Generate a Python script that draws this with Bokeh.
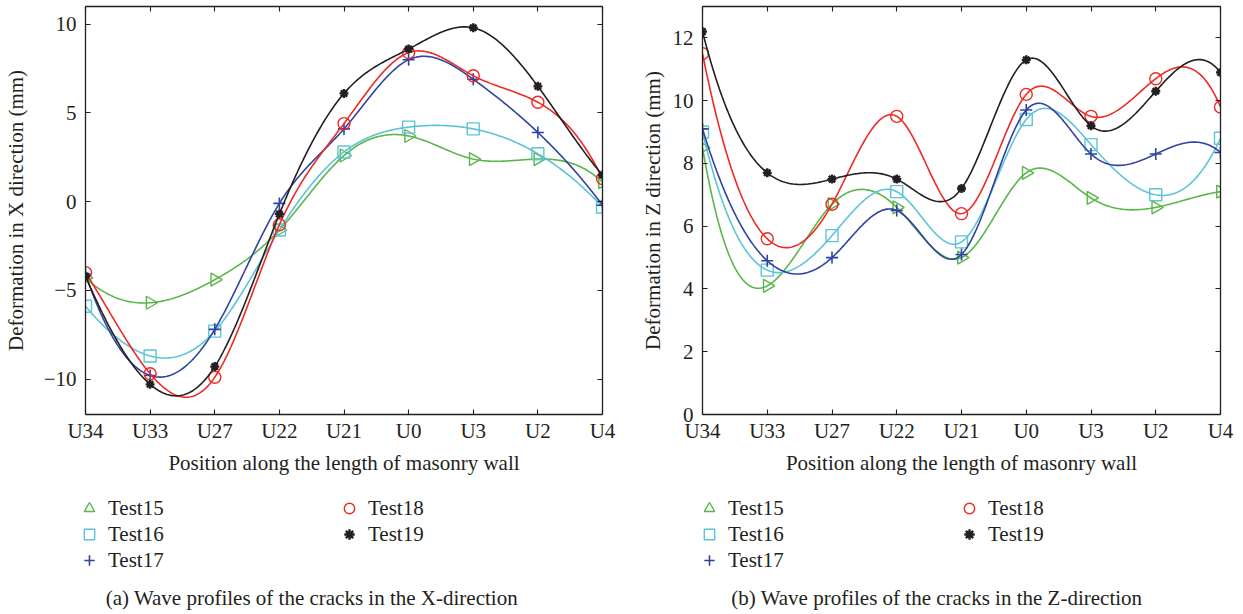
import numpy as np
from bokeh.plotting import figure
from bokeh.layouts import row, column
from bokeh.models import (FixedTicker, LinearAxis, Legend, LegendItem, Label,
                          CustomJSTickFormatter, Range1d)
from bokeh.embed import file_html
from bokeh.resources import INLINE

# ---------------- data ----------------
positions = ["U34", "U33", "U27", "U22", "U21", "U0", "U3", "U2", "U4"]
series_names = ["Test15", "Test16", "Test17", "Test18", "Test19"]

# (a) X-direction deformation (mm)
x_test15 = [-4.3, -5.7, -4.4, -1.6, 2.6, 3.7, 2.4, 2.4, 1.1]
x_test16 = [-5.9, -8.7, -7.3, -1.6, 2.8, 4.2, 4.1, 2.7, -0.3]
x_test17 = [-4.1, -9.8, -7.2, -0.1, 4.1, 8.0, 6.9, 3.9, -0.2]
x_test18 = [-4.0, -9.7, -9.9, -1.3, 4.4, 8.4, 7.1, 5.6, 1.3]
x_test19 = [-4.2, -10.3, -9.3, -0.7, 6.1, 8.6, 9.8, 6.5, 1.5]

# (b) Z-direction deformation (mm)
z_test15 = [8.5, 4.1, 6.7, 6.6, 5.0, 7.7, 6.9, 6.6, 7.1]
z_test16 = [9.0, 4.6, 5.7, 7.1, 5.5, 9.4, 8.6, 7.0, 8.8]
z_test17 = [9.1, 4.9, 5.0, 6.5, 5.1, 9.7, 8.3, 8.3, 8.35]
z_test18 = [11.5, 5.6, 6.7, 9.5, 6.4, 10.2, 9.5, 10.7, 9.8]
z_test19 = [12.2, 7.7, 7.5, 7.5, 7.2, 11.3, 9.2, 10.3, 10.9]

x_yticks = [-10, -5, 0, 5, 10]
z_yticks = [0, 2, 4, 6, 8, 10, 12]

# ---------------- styles ----------------
FONT = "Liberation Serif"
TXT = "#231f20"
FS = "21px"
colors = ["#5ab54a", "#5cc4d6", "#2f43a0", "#ee2a24", "#231f20"]
markers = ["triangle", "square", "cross", "circle", "asterisk"]


def marker_kw(mk, col):
    kw = dict(marker=mk, size=12, line_color=col, line_width=1.4, fill_color=None)
    if mk == "triangle":
        kw.update(angle=-np.pi / 2, size=13)
    if mk == "cross":
        kw.update(size=12, line_width=1.6)
    if mk == "asterisk":
        kw.update(size=9, line_width=2.4)
    return kw


def spline_nak(x, y, xs):
    """Not-a-knot cubic spline through (x, y), evaluated at xs."""
    x = np.asarray(x, float)
    y = np.asarray(y, float)
    n = len(x)
    h = np.diff(x)
    A = np.zeros((n, n))
    r = np.zeros(n)
    for i in range(1, n - 1):
        A[i, i - 1] = h[i - 1]
        A[i, i] = 2 * (h[i - 1] + h[i])
        A[i, i + 1] = h[i]
        r[i] = 6 * ((y[i + 1] - y[i]) / h[i] - (y[i] - y[i - 1]) / h[i - 1])
    A[0, 0], A[0, 1], A[0, 2] = -h[1], h[0] + h[1], -h[0]
    A[-1, -3], A[-1, -2], A[-1, -1] = -h[-1], h[-2] + h[-1], -h[-2]
    M = np.linalg.solve(A, r)
    idx = np.clip(np.searchsorted(x, xs) - 1, 0, n - 2)
    x0, x1 = x[idx], x[idx + 1]
    hh = x1 - x0
    return (M[idx] * (x1 - xs) ** 3 / (6 * hh) + M[idx + 1] * (xs - x0) ** 3 / (6 * hh)
            + (y[idx] / hh - M[idx] * hh / 6) * (x1 - xs)
            + (y[idx + 1] / hh - M[idx + 1] * hh / 6) * (xs - x0))


minus_fmt = CustomJSTickFormatter(code="return tick < 0 ? '\u2212' + Math.abs(tick) : String(tick);")
empty_fmt = CustomJSTickFormatter(code="return '';")

TOP_H = 480
BOT_H = 614 - TOP_H


def make_panel(series, yticks, yr, ylabel, width, bl, br, ylabel_standoff):
    xs_idx = list(range(len(positions)))
    p = figure(width=width, height=TOP_H, output_backend="svg", toolbar_location=None,
               x_range=Range1d(0, len(positions) - 1), y_range=Range1d(*yr),
               min_border_left=bl, min_border_right=br, min_border_top=6,
               min_border_bottom=TOP_H - 414)
    p.grid.visible = False
    p.outline_line_color = None
    p.background_fill_color = "white"
    p.border_fill_color = "white"

    xa = p.below[0]
    ya = p.left[0]
    xa.ticker = FixedTicker(ticks=xs_idx)
    xa.major_label_overrides = {i: s for i, s in enumerate(positions)}
    ya.ticker = FixedTicker(ticks=yticks)
    ya.formatter = minus_fmt
    xa.axis_label = "Position along the length of masonry wall"
    ya.axis_label = ylabel
    xa.major_label_standoff = 4
    ya.major_label_standoff = 9
    xa.axis_label_standoff = 5
    ya.axis_label_standoff = ylabel_standoff

    # extra frame axes (top/right) with ticks only
    top = LinearAxis(ticker=FixedTicker(ticks=xs_idx), formatter=empty_fmt)
    right = LinearAxis(ticker=FixedTicker(ticks=yticks), formatter=empty_fmt)
    p.add_layout(top, "above")
    p.add_layout(right, "right")

    for ax in [xa, ya, top, right]:
        ax.major_tick_in = 5
        ax.major_tick_out = 0
        ax.minor_tick_line_color = None
        ax.axis_line_color = TXT
        ax.axis_line_width = 1.3
        ax.major_tick_line_color = TXT
        ax.major_tick_line_width = 1.1
        ax.major_label_text_font = FONT
        ax.major_label_text_font_size = FS
        ax.major_label_text_color = TXT
        ax.axis_label_text_font = FONT
        ax.axis_label_text_font_size = FS
        ax.axis_label_text_font_style = "normal"
        ax.axis_label_text_color = TXT
    top.major_label_standoff = 0
    right.major_label_standoff = 0
    top.major_label_text_font_size = "1px"
    right.major_label_text_font_size = "1px"

    xfine = np.linspace(0, len(positions) - 1, 400)
    for vals, col, mk in zip(series, colors, markers):
        p.line(xfine, spline_nak(xs_idx, vals, xfine), line_color=col, line_width=1.6)
        p.scatter(xs_idx, vals, **marker_kw(mk, col))
    return p


def make_key(series, caption, width, leg_x, cap_x):
    xs_idx = list(range(len(positions)))
    # ranges chosen so the (real) data points fall outside this key strip;
    # only the legend swatches drawn from these renderers are visible
    k = figure(width=width, height=BOT_H, output_backend="svg", toolbar_location=None,
               x_range=Range1d(-3, -2), y_range=Range1d(0, 1),
               x_axis_type=None, y_axis_type=None, min_border=0)
    k.grid.visible = False
    k.outline_line_color = None
    k.background_fill_color = "white"
    k.border_fill_color = "white"
    items = []
    for name, vals, col, mk in zip(series_names, series, colors, markers):
        r = k.scatter(xs_idx, vals, **marker_kw(mk, col))
        items.append(LegendItem(label=name, renderers=[r]))
    legend = Legend(items=items, location=(leg_x, 41), orientation="vertical", nrows=3,
                    glyph_width=26, glyph_height=26, label_height=26, label_width=228,
                    label_standoff=6, spacing=0, padding=0, margin=0,
                    border_line_color=None, background_fill_alpha=0,
                    label_text_font=FONT, label_text_font_size=FS, label_text_color=TXT)
    k.add_layout(legend, "center")
    cap = Label(x=cap_x, y=17, x_units="screen", y_units="screen", text=caption,
                text_align="center", text_baseline="middle",
                text_font=FONT, text_font_size=FS, text_color=TXT)
    k.add_layout(cap)
    return k


x_series = [x_test15, x_test16, x_test17, x_test18, x_test19]
z_series = [z_test15, z_test16, z_test17, z_test18, z_test19]

p1 = make_panel(x_series, x_yticks, (-12, 11), "Deformation in X direction (mm)", 621, 83, 19, 13)
p2 = make_panel(z_series, z_yticks, (0, 13), "Deformation in Z direction (mm)", 622, 81, 23, 5)
k1 = make_key(x_series, "(a)  Wave profiles of the cracks in the X-direction", 621, 76, 314)
k2 = make_key(z_series, "(b)  Wave profiles of the cracks in the Z-direction", 622, 75, 318)

layout = column(row(p1, p2), row(k1, k2))
open("out.html", "w").write(file_html(layout, INLINE))
